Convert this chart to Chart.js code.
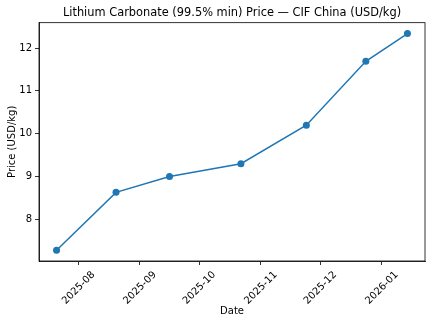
<!DOCTYPE html>
<html>
<head>
<meta charset="utf-8">
<script src="https://cdn.jsdelivr.net/npm/chart.js@4/dist/chart.umd.min.js"></script>
<style>
  html, body { margin: 0; padding: 0; background: #fff; }
  #wrap { width: 432px; height: 322px; }
</style>
</head>
<body>
<div id="wrap"><canvas id="c" width="432" height="322"></canvas></div>
<script>
// Lithium carbonate (99.5% min) CIF China quotes
const dates = ['2025-07-21', '2025-08-20', '2025-09-16', '2025-10-22', '2025-11-24', '2025-12-24', '2026-01-14'];
const prices = [7.28, 8.63, 9.00, 9.30, 10.20, 11.69, 12.34];
// month-start ticks along the date axis
const tickMonths = ['2025-08', '2025-09', '2025-10', '2025-11', '2025-12', '2026-01'];
const priceTicks = [8, 9, 10, 11, 12];

const DAY = 86400000;
const toDay = s => {
  const [y, m, d] = s.split('-').map(Number);
  return Date.UTC(y, m - 1, d || 1) / DAY;
};
const dayLabel = v => {
  const dt = new Date(v * DAY);
  return dt.getUTCFullYear() + '-' + String(dt.getUTCMonth() + 1).padStart(2, '0');
};

const xs = dates.map(toDay);
const xMin = Math.min(...xs), xMax = Math.max(...xs);
const xPad = (xMax - xMin) * 0.05;
const yMin = Math.min(...prices), yMax = Math.max(...prices);
const yPad = (yMax - yMin) * 0.05;

const FONT = "'DejaVu Sans', sans-serif";

// closes the frame on the top and right sides
const frame = {
  id: 'frame',
  afterDraw(chart) {
    const { ctx, chartArea: a } = chart;
    ctx.save();
    ctx.strokeStyle = '#000';
    ctx.lineWidth = 0.8;
    ctx.strokeRect(a.left, a.top, a.right - a.left, a.bottom - a.top);
    ctx.restore();
  }
};

new Chart(document.getElementById('c'), {
  type: 'line',
  data: {
    datasets: [{
      data: xs.map((x, i) => ({ x, y: prices[i] })),
      borderColor: '#1f77b4',
      backgroundColor: '#1f77b4',
      borderWidth: 1.5,
      pointRadius: 3.5,
      pointHoverRadius: 3.5,
      pointBorderWidth: 0,
      tension: 0
    }]
  },
  options: {
    responsive: false,
    animation: false,
    events: [],
    layout: { padding: { left: 0, right: 7, top: 0, bottom: 0 } },
    plugins: {
      legend: { display: false },
      tooltip: { enabled: false },
      title: {
        display: true,
        fullSize: false,
        text: 'Lithium Carbonate (99.5% min) Price — CIF China (USD/kg)',
        color: '#000',
        font: { family: FONT, size: 11.4, weight: 'normal' },
        padding: { top: 6, bottom: 3 }
      }
    },
    scales: {
      x: {
        type: 'linear',
        min: xMin - xPad,
        max: xMax + xPad,
        afterBuildTicks: s => { s.ticks = tickMonths.map(m => ({ value: toDay(m) })); },
        afterFit: s => { s.height = 61; },
        border: { color: '#000', width: 0.8 },
        grid: { drawOnChartArea: false, drawTicks: true, tickLength: 4, color: '#000', tickWidth: 0.8 },
        ticks: {
          color: '#000',
          font: { family: FONT, size: 10 },
          minRotation: 45, maxRotation: 45,
          padding: 4,
          autoSkip: false,
          labelOffset: 15,
          callback: v => dayLabel(v)
        },
        title: {
          display: true, text: 'Date', color: '#000',
          font: { family: FONT, size: 10 },
          padding: { top: 0, bottom: 5 }
        }
      },
      y: {
        type: 'linear',
        min: yMin - yPad,
        max: yMax + yPad,
        afterBuildTicks: s => { s.ticks = priceTicks.map(v => ({ value: v })); },
        afterFit: s => { s.width = 39; },
        border: { color: '#000', width: 0.8 },
        grid: { drawOnChartArea: false, drawTicks: true, tickLength: 4, color: '#000', tickWidth: 0.8 },
        ticks: {
          color: '#000',
          font: { family: FONT, size: 10 },
          padding: 3,
          callback: v => String(v)
        },
        title: {
          display: true, text: 'Price (USD/kg)', color: '#000',
          font: { family: FONT, size: 10 },
          padding: { top: 6, bottom: 0 }
        }
      }
    }
  },
  plugins: [frame]
});
</script>
</body>
</html>
